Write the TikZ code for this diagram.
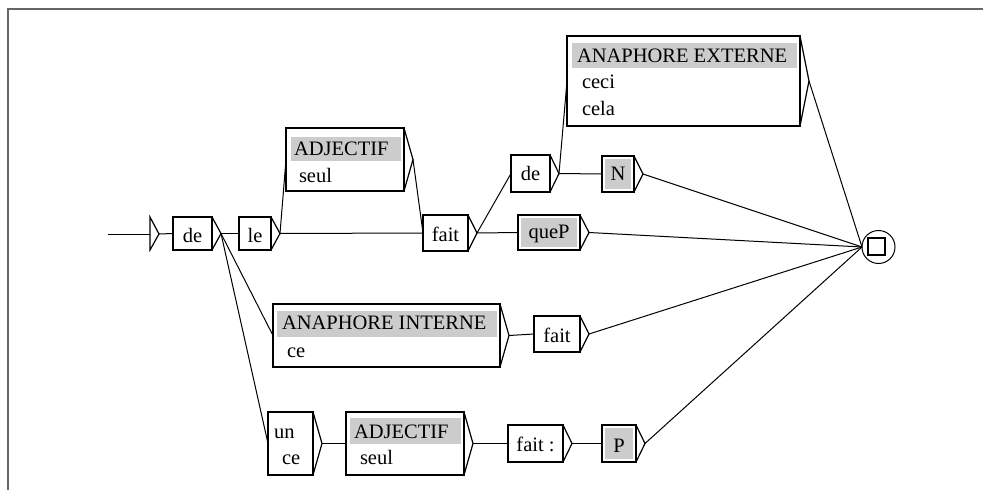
\documentclass[tikz,border=0pt]{standalone}
\usepackage{fontspec}
\setmainfont{Liberation Serif}
\usetikzlibrary{calc}
\tikzset{
 ubx/.style={draw, line width=1.3pt, inner sep=0pt, outer sep=0pt, rectangle},
 tri/.style={line width=1.2pt, line join=miter},
 conn/.style={line width=1pt},
 hdr/.style={fill=black!20},
 txt/.style={inner sep=0pt, outer sep=0pt, font=\fontsize{20.5}{24}\selectfont},
}
\newcommand\ubox[5]{%
 \node[ubx, minimum width={#4-#2}, minimum height={#5-#3}, anchor=north west] (#1) at (#2,#3) {};
 \draw[tri] (#1.north east) -- ($(#1.east)+(9,0)$) coordinate (#1-t) -- (#1.south east);}
\begin{document}
\begin{tikzpicture}[x=1pt,y=-1pt]
\useasboundingbox (0,0) rectangle (983,490);
\draw[black!60, line width=1.5pt] (8,490) -- (8,9) -- (983,9);
% gray fills first
\fill[hdr] (291,137) rectangle (401,161);
\fill[hdr] (572,43) rectangle (797,68);
\fill[hdr] (605,159) rectangle (631,189);
\fill[hdr] (521,218) rectangle (577,247);
\fill[hdr] (277,311) rectangle (497,337);
\fill[hdr] (350,418) rectangle (461,444);
\fill[hdr] (605,428) rectangle (633,459);
% initial state
\coordinate (start) at (108,234);
\coordinate (init) at (150,234);
\draw[conn] (start) -- (init);
\draw[tri] (150,217) -- (159,234) coordinate (init-t) -- (150,250) -- cycle;
% boxes
\ubox{de}{173}{217}{212}{250}
\ubox{le}{239}{217}{271}{250}
\ubox{adja}{286}{128}{404}{191}
\ubox{faita}{423}{215}{468}{251}
\ubox{deb}{511}{155}{550}{192}
\ubox{ae}{567}{36}{800}{126}
\ubox{N}{602}{156}{634}{192}
\ubox{queP}{518}{215}{580}{250}
\ubox{ai}{273}{304}{500}{367}
\ubox{faitb}{534}{316}{580}{352}
\ubox{unce}{268}{412}{313}{475}
\ubox{adjb}{346}{412}{464}{475}
\ubox{faitc}{508}{425}{563}{462}
\ubox{P}{602}{425}{636}{462}
% final state
\node[circle, draw, line width=1pt, minimum size=33pt, inner sep=0pt, outer sep=0pt] (fin) at (878.5,247) {};
\node[draw, line width=1.3pt, minimum size=17pt, inner sep=0pt] (finsq) at (876.5,246.5) {};
% texts
\node[txt, anchor=base] (t-de) at (192.5,242) {de};
\node[txt, anchor=base] (t-le) at (255,242) {le};
\node[txt, anchor=base west] (t-adja) at (294,155) {ADJECTIF};
\node[txt, anchor=base west] (t-seula) at (299,182) {seul};
\node[txt, anchor=base] (t-faita) at (445.5,241) {fait};
\node[txt, anchor=base] (t-deb) at (530.5,180) {de};
\node[txt, anchor=base west] (t-ae) at (577,62) {ANAPHORE EXTERNE};
\node[txt, anchor=base west] (t-ceci) at (582,88) {ceci};
\node[txt, anchor=base west] (t-cela) at (582,115) {cela};
\node[txt, anchor=base] (t-N) at (618,180) {N};
\node[txt, anchor=base] (t-queP) at (549,238) {queP};
\node[txt, anchor=base west] (t-ai) at (282,329) {ANAPHORE INTERNE};
\node[txt, anchor=base west] (t-ce) at (287,357) {ce};
\node[txt, anchor=base] (t-faitb) at (557,342) {fait};
\node[txt, anchor=base west] (t-un) at (274,438) {un};
\node[txt, anchor=base west] (t-ceb) at (282,464) {ce};
\node[txt, anchor=base west] (t-adjb) at (354,438) {ADJECTIF};
\node[txt, anchor=base west] (t-seulb) at (360,464) {seul};
\node[txt, anchor=base] (t-faitc) at (535.5,451) {fait :};
\node[txt, anchor=base] (t-P) at (619,452) {P};
% connectors
\draw[conn] (init-t) -- (de.west);
\draw[conn] (de-t) -- (le.west);
\draw[conn] (de-t) -- (ai.west);
\draw[conn] (de-t) -- (unce.west);
\draw[conn] (le-t) -- (adja.west);
\draw[conn] (le-t) -- (faita.west);
\draw[conn] (adja-t) -- (faita.west);
\draw[conn] (faita-t) -- (deb.west);
\draw[conn] (faita-t) -- (queP.west);
\draw[conn] (deb-t) -- (ae.west);
\draw[conn] (deb-t) -- (N.west);
\draw[conn] (ai-t) -- (faitb.west);
\draw[conn] (unce-t) -- (adjb.west);
\draw[conn] (adjb-t) -- (faitc.west);
\draw[conn] (faitc-t) -- (P.west);
\draw[conn] (ae-t) -- (fin.west);
\draw[conn] (N-t) -- (fin.west);
\draw[conn] (queP-t) -- (fin.west);
\draw[conn] (faitb-t) -- (fin.west);
\draw[conn] (P-t) -- (fin.west);
\end{tikzpicture}
\end{document}
